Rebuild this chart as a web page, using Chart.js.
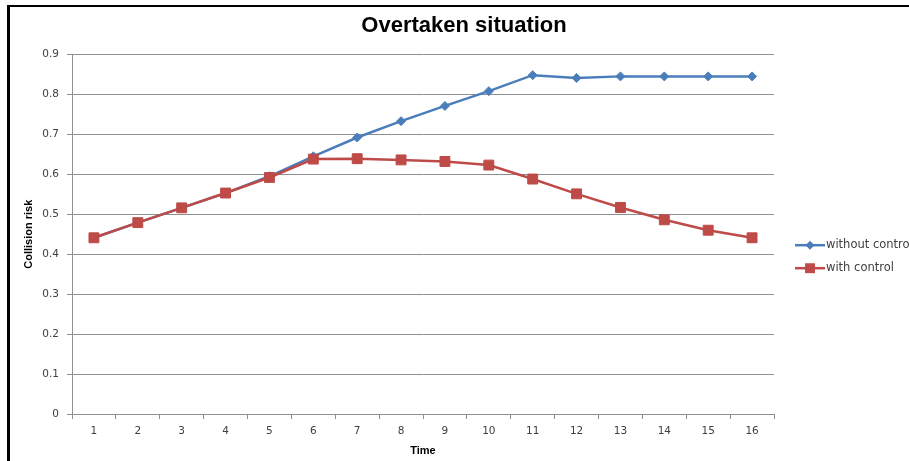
<!DOCTYPE html>
<html>
<head>
<meta charset="utf-8">
<script src="https://cdn.jsdelivr.net/npm/chart.js@4/dist/chart.umd.min.js"></script>
<style>
  html, body { margin: 0; padding: 0; background: #fff; }
  #wrap { position: relative; width: 909px; height: 461px; overflow: hidden; }
  #frame { position: absolute; left: 7px; top: 5px; width: 902px; height: 454px;
           border-top: 2px solid #000; border-left: 3px solid #000; border-bottom: 1px solid #c8c8c8;
           box-sizing: content-box; pointer-events: none; }
</style>
</head>
<body>
<div id="wrap">
  <canvas id="c" width="909" height="461"></canvas>
  <div id="frame"></div>
</div>
<script>
const categories = ['1','2','3','4','5','6','7','8','9','10','11','12','13','14','15','16'];
const withoutControl = [0.441, 0.479, 0.516, 0.553, 0.595, 0.645, 0.692, 0.733, 0.771, 0.808, 0.848, 0.841, 0.845, 0.845, 0.845, 0.845];
const withControl    = [0.441, 0.479, 0.516, 0.553, 0.592, 0.638, 0.639, 0.636, 0.632, 0.623, 0.588, 0.551, 0.517, 0.486, 0.460, 0.441];
const yTickLabels = ['0','0.1','0.2','0.3','0.4','0.5','0.6','0.7','0.8','0.9'];
const seriesNames = ['without control', 'with control'];
const chartTitle = 'Overtaken situation';
const xTitle = 'Time';
const yTitle = 'Collision risk';

const BLUE = '#4a7ebb';
const RED = '#be4b48';
const GRID = '#8f8f8f';
const TICK = '#404040';
const TICKFONT = { family: 'DejaVu Sans', size: 10.5 };
const AXISTITLEFONT = { family: "'Liberation Sans Narrow', 'Liberation Sans', Arial", size: 11, weight: 'bold' };

const legendPlugin = {
  id: 'sideLegend',
  afterDraw(chart) {
    const ctx = chart.ctx;
    const area = chart.chartArea;
    const mid = (area.top + area.bottom) / 2;
    const x0 = area.right + 21;
    const lineLen = 30;
    chart.data.datasets.forEach((ds, i) => {
      const y = mid + 11 + i * 23;
      ctx.save();
      ctx.strokeStyle = ds.borderColor;
      ctx.lineWidth = ds.borderWidth;
      ctx.beginPath();
      ctx.moveTo(x0, y);
      ctx.lineTo(x0 + lineLen, y);
      ctx.stroke();
      const cx = x0 + lineLen / 2;
      ctx.fillStyle = ds.pointBackgroundColor;
      ctx.beginPath();
      if (ds.pointStyle === 'rect') {
        const s = ds.pointRadius * Math.SQRT1_2;
        ctx.rect(cx - s, y - s, 2 * s, 2 * s);
      } else {
        const r = ds.pointRadius;
        ctx.moveTo(cx - r, y); ctx.lineTo(cx, y - r); ctx.lineTo(cx + r, y); ctx.lineTo(cx, y + r); ctx.closePath();
      }
      ctx.fill();
      ctx.fillStyle = TICK;
      ctx.font = '11.5px "DejaVu Sans"';
      ctx.textBaseline = 'middle';
      ctx.textAlign = 'left';
      ctx.fillText(ds.label, x0 + lineLen + 1, y);
      ctx.restore();
    });
  }
};

new Chart(document.getElementById('c'), {
  type: 'line',
  data: {
    labels: categories,
    datasets: [
      { label: seriesNames[0], data: withoutControl, borderColor: BLUE, backgroundColor: BLUE,
        pointBackgroundColor: BLUE, pointBorderColor: BLUE, borderWidth: 2.5, order: 2,
        pointStyle: 'rectRot', pointRadius: 4.5, pointBorderWidth: 1, tension: 0, yAxisID: 'y' },
      { label: seriesNames[1], data: withControl, borderColor: RED, backgroundColor: RED,
        pointBackgroundColor: RED, pointBorderColor: RED, borderWidth: 2.5, order: 1,
        pointStyle: 'rect', pointRadius: 7, pointBorderWidth: 1, tension: 0, yAxisID: 'y' }
    ]
  },
  options: {
    responsive: false,
    animation: false,
    devicePixelRatio: 1,
    layout: { padding: { left: 19, right: 0, top: 0, bottom: 0 } },
    plugins: {
      legend: { display: false },
      tooltip: { enabled: false },
      title: {
        display: true, text: chartTitle, color: '#000',
        font: { family: "'Liberation Sans', Arial", size: 22, weight: 'bold' },
        padding: { top: 13, bottom: 15 }
      }
    },
    scales: {
      x: {
        type: 'category',
        offset: true,
        grid: { display: true, drawOnChartArea: false, drawTicks: true, tickLength: 5, offset: true, color: GRID },
        border: { display: true, color: GRID, width: 1 },
        ticks: { color: TICK, font: TICKFONT, padding: 6, maxRotation: 0, autoSkip: false },
        title: { display: true, text: xTitle, color: '#000', font: AXISTITLEFONT, padding: { top: 0, bottom: 3 } },
        afterFit(s) { s.height = 47; }
      },
      y: {
        type: 'linear',
        position: 'left',
        min: 0, max: 0.9,
        grid: { color: GRID, tickLength: 5, lineWidth: 1 },
        border: { display: true, color: GRID, width: 1 },
        ticks: { stepSize: 0.1, color: TICK, font: TICKFONT, padding: 8,
                 callback: (v, i) => yTickLabels[i] },
        title: { display: true, text: yTitle, color: '#000', font: AXISTITLEFONT, padding: { top: 3, bottom: 0 } },
        afterFit(s) { s.width = 53; }
      },
      y2: {
        type: 'linear',
        position: 'right',
        display: true,
        grid: { display: false, drawTicks: false },
        border: { display: false },
        ticks: { display: false },
        afterFit(s) { s.width = 135; }
      }
    }
  },
  plugins: [legendPlugin]
});
</script>
</body>
</html>
